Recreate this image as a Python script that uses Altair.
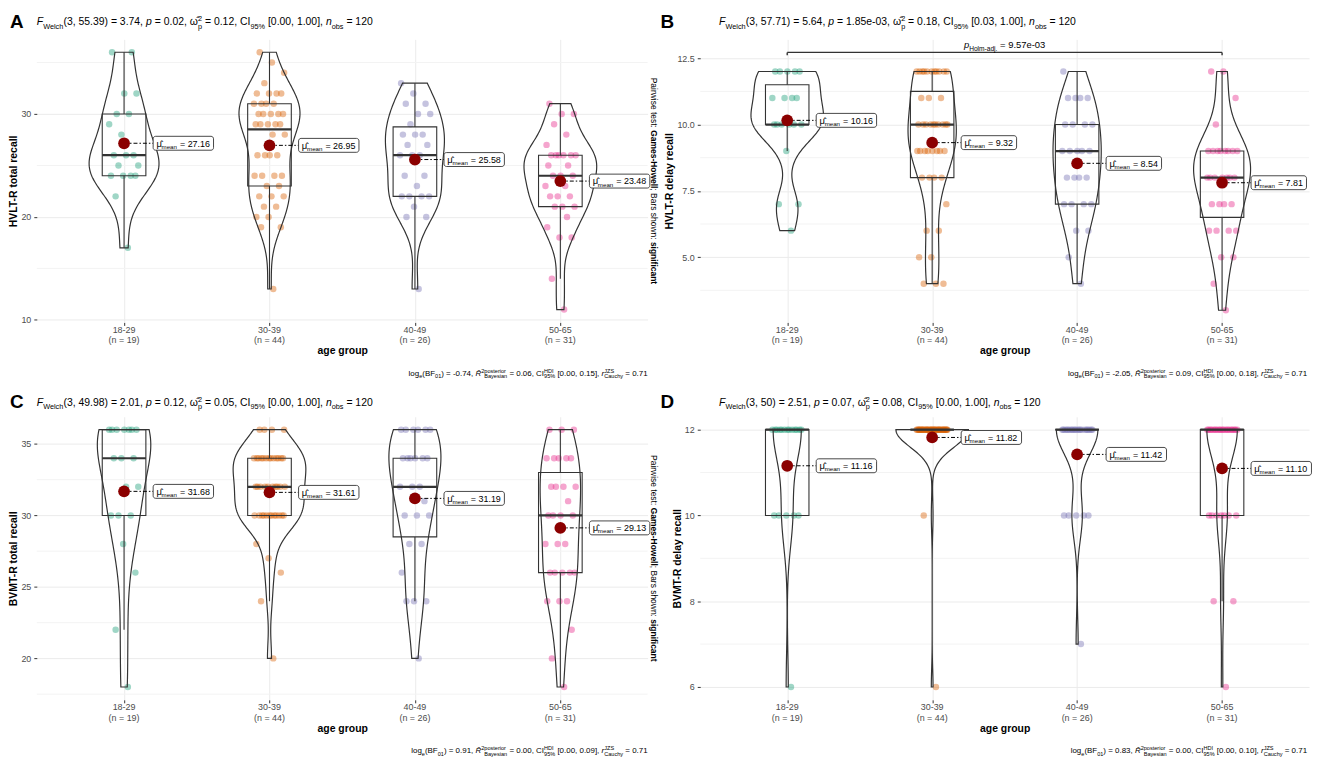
import unicodedata
import altair as alt
import pandas as pd

FONT = "Liberation Sans"
LINE = "#333333"
GROUPS = ["18-29", "30-39", "40-49", "50-65"]
GROUP_COLORS = ["#1B9E77", "#D95F02", "#7570B3", "#E7298A"]

# ---------------- data ----------------
HVLT_TOTAL_18_29 = [17, 22, 24, 24, 24, 24, 25, 25, 26, 26, 26, 28, 29, 30, 30, 32, 32, 36, 36]
HVLT_TOTAL_30_39 = [13, 19, 19, 20, 20, 21, 21, 22, 22, 22, 23, 23, 24, 24, 24, 24, 26, 26, 26, 26, 28, 28,
                    29, 29, 29, 29, 29, 30, 30, 30, 30, 30, 31, 31, 31, 31, 32, 32, 32, 32, 33, 34, 35, 36]
HVLT_TOTAL_40_49 = [13, 20, 20, 21, 22, 22, 22, 22, 23, 24, 24, 26, 26, 26, 27, 27, 28, 28, 28, 29, 30, 30,
                    31, 31, 32, 33]
HVLT_TOTAL_50_65 = [11, 14, 18, 18, 19, 20, 21, 21, 21, 22, 22, 22, 23, 23, 24, 24, 24, 25, 25, 26, 26, 26,
                    26, 26, 26, 27, 28, 29, 30, 30, 31]

HVLT_DELAY_18_29 = [6, 7, 7, 9, 10, 10, 10, 10, 10, 10, 11, 11, 11, 11, 12, 12, 12, 12, 12]
HVLT_DELAY_30_39 = [4, 4, 4, 5, 5, 6, 6, 7, 8, 8, 8, 8, 9, 9, 9, 9, 9, 9, 9, 9, 10, 10, 10, 10, 10, 10, 10,
                    10, 10, 10, 11, 11, 11, 12, 12, 12, 12, 12, 12, 12, 12, 12, 12, 12]
HVLT_DELAY_40_49 = [4, 5, 6, 6, 7, 7, 7, 7, 8, 8, 8, 8, 9, 9, 9, 9, 9, 10, 10, 10, 10, 11, 11, 11, 11, 12]
HVLT_DELAY_50_65 = [3, 4, 5, 5, 6, 6, 6, 6, 7, 7, 7, 7, 8, 8, 8, 8, 8, 8, 8, 9, 9, 9, 9, 9, 9, 9, 9, 10,
                    11, 12, 12]

BVMT_TOTAL_18_29 = [18, 22, 26, 28, 30, 30, 30, 32, 32, 34, 34, 34, 36, 36, 36, 36, 36, 36, 36]
BVMT_TOTAL_30_39 = [20, 24, 26, 27, 28, 30, 30, 30, 30, 30, 30, 30, 30, 30, 30, 30, 30, 32, 32, 32, 32, 32,
                    32, 32, 32, 32, 32, 34, 34, 34, 34, 34, 34, 34, 34, 34, 34, 34, 34, 34, 36, 36, 36, 36]
BVMT_TOTAL_40_49 = [20, 24, 24, 24, 26, 28, 28, 30, 30, 30, 31, 32, 32, 32, 34, 34, 34, 34, 34, 34, 36, 36,
                    36, 36, 36, 36]
BVMT_TOTAL_50_65 = [18, 20, 22, 24, 24, 24, 26, 26, 26, 26, 26, 28, 28, 28, 30, 30, 30, 30, 31, 32, 32, 32,
                    32, 34, 34, 34, 34, 34, 36, 36, 36]

BVMT_DELAY_18_29 = [6, 10, 10, 10, 10, 10, 12, 12, 12, 12, 12, 12, 12, 12, 12, 12, 12, 12, 12]
BVMT_DELAY_30_39 = [6, 10, 12, 12, 12, 12, 12, 12, 12, 12, 12, 12, 12, 12, 12, 12, 12, 12, 12, 12, 12, 12,
                    12, 12, 12, 12, 12, 12, 12, 12, 12, 12, 12, 12, 12, 12, 12, 12, 12, 12, 12, 12, 12, 12]
BVMT_DELAY_40_49 = [7, 10, 10, 10, 10, 10, 12, 12, 12, 12, 12, 12, 12, 12, 12, 12, 12, 12, 12, 12, 12, 12,
                    12, 12, 12, 12]
BVMT_DELAY_50_65 = [6, 8, 8, 10, 10, 10, 10, 10, 10, 10, 12, 12, 12, 12, 12, 12, 12, 12, 12, 12, 12, 12, 12,
                    12, 12, 12, 12, 12, 12, 12, 12]

# pairwise comparison shown in panel B
PAIR_B_GROUPS = ("18-29", "50-65")
PAIR_B_LEVEL = 12.72
PAIR_B_P = "9.57e-03"


def stats_title(df2, f, p, om, ci):
    return [("i", "F"), ("sub", "Welch"), ("n", f"({df2}) = {f}, "), ("i", "p"), ("n", f" = {p}, "),
            ("n", "ω̂"), ("stack", ("2", "p")), ("n", f" = {om}, CI"), ("sub", "95%"),
            ("n", f" [{ci}], "), ("i", "n"), ("sub", "obs"), ("n", " = 120")]


def bayes_caption(bf, r2, ci, r):
    return [("n", "log"), ("sub", "e"), ("n", "(BF"), ("sub", "01"), ("n", f") = {bf}, "),
            ("i", "R̂"), ("sup", "2"), ("stack", ("posterior", "Bayesian")), ("n", f" = {r2}, CI"),
            ("stack", ("HDI", "95%")), ("n", f" [{ci}], "), ("i", "r"), ("stack", ("JZS", "Cauchy")),
            ("n", f" = {r}")]


PANELS = [
    dict(letter="A", ytitle="HVLT-R  total recall",
         data=[HVLT_TOTAL_18_29, HVLT_TOTAL_30_39, HVLT_TOTAL_40_49, HVLT_TOTAL_50_65],
         domain=[9.75, 37.25], ticks=[10, 20, 30], minor=[15, 25, 35], fmt="d",
         title=stats_title("3, 55.39", "3.74", "0.02", "0.12", "0.00, 1.00"),
         caption=bayes_caption("-0.74", "0.06", "0.00, 0.15", "0.71"),
         pairwise=True, bracket=None, col=0, row=0),
    dict(letter="B", ytitle="HVLT-R delay recall",
         data=[HVLT_DELAY_18_29, HVLT_DELAY_30_39, HVLT_DELAY_40_49, HVLT_DELAY_50_65],
         domain=[2.54, 13.21], ticks=[5.0, 7.5, 10.0, 12.5], minor=[3.75, 6.25, 8.75, 11.25], fmt=".1f",
         title=stats_title("3, 57.71", "5.64", "1.85e-03", "0.18", "0.03, 1.00"),
         caption=bayes_caption("-2.05", "0.09", "0.00, 0.18", "0.71"),
         pairwise=False, bracket=(PAIR_B_GROUPS, PAIR_B_LEVEL, PAIR_B_P), col=1, row=0),
    dict(letter="C", ytitle="BVMT-R  total recall",
         data=[BVMT_TOTAL_18_29, BVMT_TOTAL_30_39, BVMT_TOTAL_40_49, BVMT_TOTAL_50_65],
         domain=[17.1, 36.9], ticks=[20, 25, 30, 35], minor=[17.5, 22.5, 27.5, 32.5], fmt="d",
         title=stats_title("3, 49.98", "2.01", "0.12", "0.05", "0.00, 1.00"),
         caption=bayes_caption("0.91", "0.00", "0.00, 0.09", "0.71"),
         pairwise=True, bracket=None, col=0, row=1),
    dict(letter="D", ytitle="BVMT-R delay recall",
         data=[BVMT_DELAY_18_29, BVMT_DELAY_30_39, BVMT_DELAY_40_49, BVMT_DELAY_50_65],
         domain=[5.7, 12.3], ticks=[6, 8, 10, 12], minor=[7, 9, 11], fmt="d",
         title=stats_title("3, 50", "2.51", "0.07", "0.08", "0.00, 1.00"),
         caption=bayes_caption("0.83", "0.00", "0.00, 0.10", "0.71"),
         pairwise=False, bracket=None, col=1, row=1),
]

# ---------------- text measuring for rich (sub/superscript) text ----------------
W_REG = {' ': 278, '!': 278, '%': 889, "'": 191, '(': 333, ')': 333, '+': 584, ',': 278, '-': 333,
         '.': 278, '/': 278, ':': 278, ';': 278, '=': 584, '[': 278, ']': 278, '^': 469,
         'A': 667, 'B': 667, 'C': 722, 'D': 722, 'E': 667, 'F': 611, 'G': 778, 'H': 722, 'I': 278,
         'J': 500, 'K': 667, 'L': 556, 'M': 833, 'N': 722, 'O': 778, 'P': 667, 'Q': 778, 'R': 722,
         'S': 667, 'T': 611, 'U': 722, 'V': 667, 'W': 944, 'X': 667, 'Y': 667, 'Z': 611,
         'a': 556, 'b': 556, 'c': 500, 'd': 556, 'e': 556, 'f': 278, 'g': 556, 'h': 556, 'i': 222,
         'j': 222, 'k': 500, 'l': 222, 'm': 833, 'n': 556, 'o': 556, 'p': 556, 'q': 556, 'r': 333,
         's': 500, 't': 278, 'u': 556, 'v': 500, 'w': 722, 'x': 500, 'y': 500, 'z': 500,
         'μ': 576, 'ω': 781}
for _d in "0123456789":
    W_REG[_d] = 556
W_BOLD = dict(W_REG)
W_BOLD.update({':': 333, ';': 333, 'b': 611, 'c': 556, 'd': 611, 'f': 333, 'g': 611, 'h': 611, 'i': 278,
               'j': 278, 'k': 556, 'l': 278, 'm': 889, 'n': 611, 'o': 611, 'p': 611, 'q': 611, 'r': 389,
               's': 556, 't': 333, 'u': 611, 'v': 556, 'w': 778, 'x': 556, 'y': 556, 'A': 722, 'B': 722})


def text_w(s, fs, bold=False):
    tbl = W_BOLD if bold else W_REG
    return sum(tbl.get(ch, 556) for ch in s if not unicodedata.combining(ch)) * fs / 1000.0


def layout(segs, fs):
    """Place segments one after the other; leading blanks become an offset
    (the renderer trims blanks at the ends of a text item)."""
    small = fs * 0.7
    items, x = [], 0.0

    def put(t, x0, dy, size, style="normal", weight="normal"):
        lead = len(t) - len(t.lstrip(" "))
        body = t.strip(" ")
        if body:
            items.append((body, x0 + text_w(" " * lead, size, weight == "bold"), dy, size, style, weight))
        return text_w(t, size, weight == "bold")

    for kind, t in segs:
        if kind in ("n", "i", "b"):
            x += put(t, x, 0.0, fs, "italic" if kind == "i" else "normal", "bold" if kind == "b" else "normal")
        elif kind == "sub":
            x += put(t, x, fs * 0.3, small)
        elif kind == "sup":
            x += put(t, x, -fs * 0.42, small)
        elif kind == "stack":
            sup, sub = t
            w1 = put(sup, x, -fs * 0.42, small)
            w2 = put(sub, x, fs * 0.3, small)
            x += max(w1, w2)
    return items, x


ONE = pd.DataFrame({"k": [0]})


def rich_fixed(segs, fs, x0, y0, align="left", color="#000000", angle=0):
    items, total = layout(segs, fs)
    start = {"left": 0.0, "center": -total / 2.0, "right": -total}[align]
    out = []
    for t, off, dy, size, style, weight in items:
        if angle == 0:
            px, py, base = x0 + start + off, y0 + dy, "alphabetic"
        else:
            px, py, base = x0, y0 + start + off, "middle"
        out.append(alt.Chart(ONE).mark_text(
            text=t, font=FONT, fontSize=round(size, 2), fontStyle=style, fontWeight=weight,
            color=color, align="left", baseline=base, angle=angle
        ).encode(x=alt.value(round(px, 2)), y=alt.value(round(py, 2))))
    return out


def rich_anchored(chart, xf, yf, xsc, ysc, segs, fs, align="left", dy0=0.0, color="#000000"):
    items, total = layout(segs, fs)
    start = {"left": 0.0, "center": -total / 2.0, "right": -total}[align]
    out = []
    for t, off, dy, size, style, weight in items:
        out.append(chart.mark_text(
            text=t, font=FONT, fontSize=round(size, 2), fontStyle=style, fontWeight=weight,
            color=color, align="left", baseline="alphabetic",
            dx=round(start + off, 2), dy=round(dy0 + dy, 2)
        ).encode(x=alt.X(xf, type="quantitative", scale=xsc),
                 y=alt.Y(yf, type="quantitative", scale=ysc)))
    return out


PLOT_W = [615, 613]
PLOT_H = 285


def build_panel(p):
    W, H = PLOT_W[p["col"]], PLOT_H
    rows = [{"g": i + 1, "value": v} for i, vals in enumerate(p["data"]) for v in vals]
    df = pd.DataFrame(rows)
    ymin, ymax = p["domain"]
    xsc = alt.Scale(domain=[0.4, 4.6], nice=False, zero=False)
    ysc = alt.Scale(domain=[ymin, ymax], nice=False, zero=False)
    ppu = W / 4.2
    upp = (ymax - ymin) / H

    # the axes are declared once (first layer); other layers leave them unspecified
    def X(f):
        return alt.X(f, type="quantitative", scale=xsc)

    def Y(f):
        return alt.Y(f, type="quantitative", scale=ysc)

    xaxis = alt.Axis(values=[1, 2, 3, 4], labels=False, grid=True, title="age group",
                     titlePadding=20)
    yaxis = alt.Axis(values=p["ticks"], format=p["fmt"], grid=True, title=p["ytitle"],
                     labelPadding=3, titlePadding=2, labelFlush=False)

    base = alt.Chart(df)
    layers = []

    # invisible layer that carries the axes
    layers.append(base.mark_point(opacity=0, size=1).encode(
        x=alt.X("g:Q", scale=xsc, axis=xaxis), y=alt.Y("value:Q", scale=ysc, axis=yaxis)))

    # minor grid lines
    layers.append(alt.Chart(pd.DataFrame({"m": p["minor"]})).mark_rule(
        color="#F3F3F3", strokeWidth=1).encode(y=Y("m")))

    # category labels under the axis
    counts = [len(v) for v in p["data"]]
    lab = pd.DataFrame({"g": [1, 2, 3, 4], "name": GROUPS, "nlab": [f"(n = {n})" for n in counts]})
    layers.append(alt.Chart(lab).mark_text(font=FONT, fontSize=9, color="#4D4D4D", baseline="middle").encode(
        x=X("g"), y=alt.value(H + 7.5), text="name:N"))
    layers.append(alt.Chart(lab).mark_text(font=FONT, fontSize=9, color="#4D4D4D", baseline="middle").encode(
        x=X("g"), y=alt.value(H + 18), text="nlab:N"))

    # jittered observations
    layers.append(base.transform_window(rn="row_number()", groupby=["g"]).transform_calculate(
        jx="datum.g + ((datum.rn * 0.618034) % 1 - 0.5) * 0.22"
    ).mark_circle(size=42, opacity=0.42).encode(
        x=X("jx"), y=Y("value"),
        color=alt.Color("g:N", scale=alt.Scale(domain=[1, 2, 3, 4], range=GROUP_COLORS), legend=None)))

    # violins: one density per group over that group's own range
    # (bandwidth brought close to R's nrd0 by sample duplication)
    layers.append(base.transform_calculate(dup="[0, 1]").transform_flatten(["dup"]).transform_density(
        "value", groupby=["g"], as_=["v", "dens"], steps=200, resolve="independent"
    ).transform_joinaggregate(maxd="max(dens)").transform_calculate(
        vl="datum.g - 0.25 * datum.dens / datum.maxd",
        vr="datum.g + 0.25 * datum.dens / datum.maxd"
    ).mark_area(orient="horizontal", fill="#FFFFFF", fillOpacity=0, stroke=LINE, strokeWidth=1.2).encode(
        y=Y("v"), x=X("vl"), x2="vr", detail="g:N"))

    # boxes
    stats = base.transform_aggregate(q1="q1(value)", med="median(value)", q3="q3(value)",
                                     groupby=["g"]).transform_calculate(
        bl="datum.g - 0.15", br="datum.g + 0.15")
    layers.append(stats.mark_rect(fill="#FFFFFF", fillOpacity=0, stroke=LINE, strokeWidth=1.1).encode(
        x=X("bl"), x2="br", y=Y("q1"), y2="q3"))
    layers.append(stats.mark_rule(color=LINE, strokeWidth=2.2).encode(x=X("bl"), x2="br", y=Y("med")))

    wh = base.transform_joinaggregate(q1="q1(value)", q3="q3(value)", groupby=["g"]).transform_filter(
        "datum.value >= datum.q1 - 1.5 * (datum.q3 - datum.q1) && "
        "datum.value <= datum.q3 + 1.5 * (datum.q3 - datum.q1)"
    ).transform_aggregate(lo="min(value)", hi="max(value)", q1="max(q1)", q3="max(q3)", groupby=["g"])
    layers.append(wh.mark_rule(color=LINE, strokeWidth=1.1).encode(x=X("g"), y=Y("lo"), y2="q1"))
    layers.append(wh.mark_rule(color=LINE, strokeWidth=1.1).encode(x=X("g"), y=Y("q3"), y2="hi"))

    # means and labels
    means = base.transform_aggregate(mean="mean(value)", groupby=["g"]).transform_calculate(
        s="format(datum.mean, '.2f')").transform_calculate(
        lx="datum.g + 0.2",
        txt="'= ' + datum.s",
        rx=f"datum.g + 0.2 + (27 + 7.8 + (length(datum.s) - 1) * 5.0 + 2.5 + 3.5) / {ppu:.4f}",
        ylo=f"datum.mean - {7 * upp:.5f}",
        yhi=f"datum.mean + {7 * upp:.5f}")
    layers.append(means.mark_rule(color="#000000", strokeWidth=1, strokeDash=[4, 2, 1.5, 2]).encode(
        x=X("g"), x2="lx", y=Y("mean")))
    layers.append(means.mark_circle(size=140, color="#8B0000", opacity=1).encode(x=X("g"), y=Y("mean")))
    layers.append(means.mark_rect(fill="#FFFFFF", stroke=LINE, strokeWidth=0.9, cornerRadius=2.5).encode(
        x=X("lx"), x2="rx", y=Y("ylo"), y2="yhi"))
    layers.append(means.mark_text(text="μ̂", font=FONT, fontSize=9.5, align="left", baseline="alphabetic",
                                  dx=3.3, dy=3.3, color="#000000").encode(x=X("lx"), y=Y("mean")))
    layers.append(means.mark_text(text="mean", font=FONT, fontSize=6.2, align="left", baseline="alphabetic",
                                  dx=8.5, dy=5.6, color="#000000").encode(x=X("lx"), y=Y("mean")))
    layers.append(means.mark_text(font=FONT, fontSize=9, align="left", baseline="alphabetic",
                                  dx=27, dy=3.3, color="#000000").encode(
        x=X("lx"), y=Y("mean"), text="txt:N"))

    # significance bracket
    if p["bracket"]:
        (ga, gb), level, pval = p["bracket"]
        bdf = pd.DataFrame({"ga": [GROUPS.index(ga) + 1], "gb": [GROUPS.index(gb) + 1], "lev": [level]})
        bb = alt.Chart(bdf).transform_calculate(xm="(datum.ga + datum.gb) / 2",
                                               tip=f"datum.lev - {3 * upp:.5f}")
        layers.append(bb.mark_rule(color=LINE, strokeWidth=1.4).encode(x=X("ga"), x2="gb", y=Y("lev")))
        layers.append(bb.mark_rule(color=LINE, strokeWidth=1.4).encode(x=X("ga"), y=Y("lev"), y2="tip"))
        layers.append(bb.mark_rule(color=LINE, strokeWidth=1.4).encode(x=X("gb"), y=Y("lev"), y2="tip"))
        layers += rich_anchored(bb, "xm", "lev", xsc, ysc,
                                [("i", "p"), ("sub", "Holm-adj."), ("n", f" = {pval}")],
                                9.5, align="center", dy0=-4.5)

    # panel tag, statistics title, caption, pairwise note
    left_off = -27 if p["col"] == 0 else -40
    title_x = 0 if p["col"] == 0 else 19
    tag_y, title_y = (-11.5, -14) if p["row"] == 0 else (-8.5, -10.5)
    layers += rich_fixed([("b", p["letter"])], 19, left_off, tag_y)
    layers += rich_fixed(p["title"], 10.5, title_x, title_y)
    layers += rich_fixed(p["caption"], 8, W if p["col"] == 0 else W - 2, H + 54, align="right")
    if p["pairwise"]:
        layers += rich_fixed([("n", "Pairwise test: "), ("b", "Games-Howell"), ("n", "; Bars shown: "),
                              ("b", "significant")], 8.5, W + 6, H / 2, align="center", angle=90)
    if p["letter"] == "A":
        layers.append(alt.Chart(ONE).mark_rule(strokeOpacity=0).encode(
            x=alt.value(-28), x2=alt.value(-27.5), y=alt.value(-28), y2=alt.value(-27.5)))

    return alt.layer(*layers).properties(width=W, height=H)


panels = [build_panel(p) for p in PANELS]

chart = alt.concat(*panels, columns=2, spacing={"row": 95, "column": 53}, bounds="flush").properties(
    padding={"left": 0, "top": 0, "right": 4, "bottom": 4},
    background="#FFFFFF"
).configure(font=FONT).configure_axis(
    domain=False, ticks=True, tickColor=LINE, tickSize=3, tickWidth=1,
    gridColor="#EBEBEB", gridWidth=1,
    labelColor="#4D4D4D", labelFont=FONT, labelFontSize=9,
    titleFont=FONT, titleFontSize=10.5, titleFontWeight="bold", titleColor="#000000"
).configure_view(stroke="transparent")

chart.save("out.html", embed_options={"renderer": "svg", "actions": False})
